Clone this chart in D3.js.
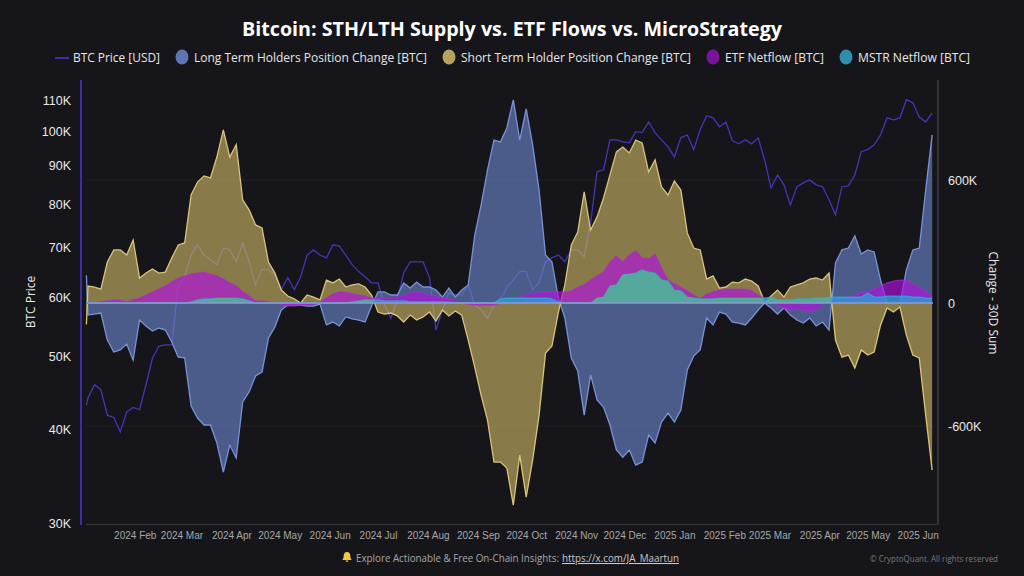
<!DOCTYPE html>
<html>
<head>
<meta charset="utf-8">
<title>Bitcoin: STH/LTH Supply vs. ETF Flows vs. MicroStrategy</title>
<script src="https://cdn.jsdelivr.net/npm/d3@7"></script>
<style>
  html, body { margin: 0; padding: 0; background: #16161a; }
  svg { display: block; font-family: "Open Sans", "Noto Sans", sans-serif; }
  .axis path, .axis line { display: none; }
  .axis text { fill: #e8e8e8; font-size: 12.5px; }
  .x-axis text { fill: #a6a6a8; font-size: 10px; }
</style>
</head>
<body>
<svg id="chart" width="1024" height="576"></svg>
<script>
// values, one sample every 4 days (first sample is the day before)
const sampleCount = 132;

const btcPrice = [43.1,
  44.1,45.9,45.2,41.8,41.5,39.7,42.2,42.8,42.5,45.9,49.8,51.7,51.9,51.9,62.4,64,68.4,70.6,68.4,67.4,
  66.4,69.9,69.5,67,71,67,62.4,65.4,65.4,64.4,61.5,63.8,61.5,64,68.4,69.5,68.4,67.8,70.6,70.3,
  68.4,66.4,65,64,62.8,62.8,58.7,56.3,59.6,64.8,67,67,67,63.8,54.3,57.8,60.9,60.5,60.5,62.4,
  58.7,57.8,56.3,58.7,59.6,62,63.4,65,65,61.5,62.8,67,67.8,68.4,67,69.5,69.5,68,75.5,88.4,
  88.9,97.5,97.5,96.9,96.6,100,99.7,103,99.7,97.5,95.4,92.5,98.1,99,94.6,100.6,105,104.3,101.5,103,
  97.2,96.3,97.5,96.3,98.1,91.7,84.1,87.5,84.9,79.8,84.4,85.4,86.2,84.9,84.4,81.1,77.4,84.4,84.6,87.5,
  94,94.6,96,99,104.3,103.7,104.3,110.3,109.3,104.6,103,105.9];

const lthChange = [135,
  -59,-54,-49,-181,-239,-229,-200,-278,-83,-112,-137,-122,-132,-190,-264,-268,-503,-561,-595,-595,
  -683,-825,-693,-756,-483,-434,-356,-337,-171,-117,-34,-10,-10,-10,-15,-15,-5,-107,-93,-112,
  -68,-78,-83,-93,-15,54,54,39,39,98,73,102,78,78,63,29,73,29,63,88,
  327,478,649,795,786,854,991,795,947,771,551,234,200,24,-73,-268,-332,-547,-351,-473,
  -508,-595,-717,-752,-717,-791,-776,-644,-683,-581,-537,-581,-522,-327,-259,-229,-73,-107,-44,-54,
  -93,-98,-107,-73,-34,0,-24,-54,-24,-59,-83,-98,-73,-112,-93,-132,195,259,268,327,
  239,259,249,112,0,5,0,161,259,268,551,820];

const sthChange = [-105,
  83,78,68,200,259,259,234,307,122,146,166,146,151,220,283,293,527,590,620,610,
  712,844,712,772,503,454,381,366,200,146,63,34,20,0,39,29,15,112,98,117,
  78,88,93,78,39,-44,-54,-49,-63,-93,-59,-83,-68,-44,-88,-34,-63,-39,-59,-181,
  -312,-449,-571,-776,-776,-805,-986,-742,-947,-766,-547,-244,-210,-44,88,283,346,542,356,420,
  512,625,737,761,732,795,781,639,698,566,527,595,551,342,268,259,117,132,73,78,
  102,98,117,107,83,5,34,63,29,78,88,98,117,122,112,146,-181,-264,-254,-317,
  -229,-254,-239,-107,-24,-44,-20,-156,-254,-268,-547,-815];

const etfNetflow = [0,
  0,0,5,10,15,15,5,15,24,39,54,68,83,102,122,132,141,146,151,141,
  132,117,98,83,54,34,10,10,5,0,-5,-15,-15,-10,-10,-5,5,24,44,54,
  54,44,39,34,24,24,24,24,29,39,49,54,49,39,34,24,20,10,0,-5,
  -10,-10,-10,-10,0,10,24,29,39,49,49,54,54,54,54,59,78,88,112,132,
  151,200,229,200,234,254,220,215,239,171,112,93,78,59,39,20,44,54,63,68,
  68,68,68,59,39,24,5,-10,-24,-34,-29,-34,-39,-34,-5,15,20,24,29,39,
  49,59,68,83,98,107,112,112,93,78,59,29];

const mstrNetflow = [0,
  0,0,0,0,0,0,0,0,0,0,0,0,0,0,0,0,5,15,20,20,
  24,24,24,24,20,10,0,0,0,0,0,0,0,0,0,0,0,0,0,0,
  0,5,10,15,15,15,10,10,10,10,5,5,5,5,5,5,5,0,0,0,
  0,0,0,0,20,24,24,24,24,24,24,24,20,5,0,0,0,0,0,24,
  29,83,88,137,141,146,161,151,146,112,107,63,59,29,24,20,20,20,24,24,
  24,24,24,24,24,24,29,15,15,15,20,20,20,24,24,29,29,29,29,29,
  29,49,29,29,34,34,34,34,29,29,24,24];

const leftTicks = [30, 40, 50, 60, 70, 80, 90, 100, 110];
const rightTicks = [-600, 0, 600];

const legendLabels = ['BTC Price [USD]', 'Long Term Holders Position Change [BTC]', 'Short Term Holder Position Change [BTC]', 'ETF Netflow [BTC]', 'MSTR Netflow [BTC]'];
const legendColors = ['#3b2fa3', '#5f74b2', '#b5a25f', '#7a129b', '#2e8fb0'];
const legendTextX = [73, 194, 461, 725, 858];
const legendTextWidth = [87, 233, 230, 99, 112];

const dates = [new Date(Date.UTC(2024, 0, 2))].concat(
  d3.range(sampleCount).map((i) => new Date(Date.UTC(2024, 0, 3 + i * 4)))
);

const svg = d3.select('#chart');

svg.append('rect').attr('width', 1024).attr('height', 576).attr('fill', '#16161a');

const x = d3.scaleUtc()
  .domain([new Date(Date.UTC(2024, 0, 1)), new Date(Date.UTC(2025, 5, 15))])
  .range([84.8, 940.2]);
const yPrice = d3.scaleLog().domain([30, 110]).range([523, 100.6]);
const yChange = d3.scaleLinear().domain([-600, 600]).range([426, 180]);

// title
svg.append('text')
  .attr('x', 512).attr('y', 36)
  .attr('text-anchor', 'middle')
  .attr('fill', '#ffffff')
  .attr('font-size', 19)
  .attr('font-weight', 700)
  .attr('textLength', 540)
  .attr('lengthAdjust', 'spacingAndGlyphs')
  .text('Bitcoin: STH/LTH Supply vs. ETF Flows vs. MicroStrategy');

// legend
legendLabels.forEach((label, i) => {
  if (i === 0) {
    svg.append('line')
      .attr('x1', 55).attr('x2', 69).attr('y1', 58).attr('y2', 58)
      .attr('stroke', legendColors[0]).attr('stroke-width', 2);
  } else {
    svg.append('ellipse')
      .attr('cx', legendTextX[i] - 12).attr('cy', 57)
      .attr('rx', 6.5).attr('ry', 7.5)
      .attr('fill', legendColors[i]);
  }
  svg.append('text')
    .attr('x', legendTextX[i]).attr('y', 62)
    .attr('fill', '#e6e6e6')
    .attr('font-size', 12.5)
    .attr('textLength', legendTextWidth[i])
    .attr('lengthAdjust', 'spacingAndGlyphs')
    .text(label);
});

// faint grid and the frame
svg.append('g').selectAll('line')
  .data(rightTicks.filter((d) => d !== 0))
  .join('line')
  .attr('x1', 86).attr('x2', 933)
  .attr('y1', (d) => yChange(d)).attr('y2', (d) => yChange(d))
  .attr('stroke', '#202025');

svg.append('line').attr('x1', 81).attr('x2', 81).attr('y1', 80).attr('y2', 525)
  .attr('stroke', '#3b2fa3').attr('stroke-width', 2);
svg.append('line').attr('x1', 938).attr('x2', 938).attr('y1', 80).attr('y2', 525)
  .attr('stroke', '#3c3c42').attr('stroke-width', 1.5);
svg.append('line').attr('x1', 86).attr('x2', 938).attr('y1', 524.5).attr('y2', 524.5)
  .attr('stroke', '#303036').attr('stroke-width', 1.5);

// price sits under the areas
const priceLine = d3.line()
  .x((d, i) => x(dates[i]))
  .y((d) => yPrice(d));

svg.append('path')
  .attr('d', priceLine(btcPrice))
  .attr('fill', 'none')
  .attr('stroke', '#4434b8')
  .attr('stroke-width', 1.3);

const area = d3.area()
  .x((d, i) => x(dates[i]))
  .y0(yChange(0))
  .y1((d) => yChange(d));

function drawArea(values, fill, opacity, stroke) {
  const line = d3.line()
    .x((d, i) => x(dates[i]))
    .y((d) => yChange(d));

  svg.append('path').attr('d', area(values)).attr('fill', fill).attr('fill-opacity', opacity);
  svg.append('path')
    .attr('d', line(values))
    .attr('fill', 'none')
    .attr('stroke', stroke)
    .attr('stroke-width', 1.3);
}

drawArea(lthChange, 'rgb(104,130,200)', 0.65, 'rgb(122,145,212)');
drawArea(sthChange, 'rgb(200,176,98)', 0.65, 'rgb(216,196,122)');
drawArea(etfNetflow, 'rgb(176,16,224)', 0.65, 'rgba(176,40,210,0.6)');
drawArea(mstrNetflow, 'rgb(30,170,220)', 0.72, 'rgba(50,175,215,0.7)');

// MSTR turns teal where it lies over the short term holders area
svg.append('clipPath').attr('id', 'sth-clip')
  .append('path').attr('d', area(sthChange));
svg.append('path')
  .attr('d', area(mstrNetflow))
  .attr('clip-path', 'url(#sth-clip)')
  .attr('fill', '#55a99c');

// zero line across the plot
svg.append('line')
  .attr('x1', 88).attr('x2', 933)
  .attr('y1', yChange(0)).attr('y2', yChange(0))
  .attr('stroke', '#8a9bd4').attr('stroke-width', 1.4);

// axes
svg.append('g')
  .attr('class', 'axis')
  .attr('transform', 'translate(80,0)')
  .call(d3.axisLeft(yPrice).tickValues(leftTicks).tickFormat((d) => `${d}K`).tickSize(0).tickPadding(9));

svg.append('g')
  .attr('class', 'axis')
  .attr('transform', 'translate(948,0)')
  .call(d3.axisRight(yChange).tickValues(rightTicks).tickFormat((d) => `${d}K`.replace(/^0K$/, '0')).tickSize(0).tickPadding(0));

svg.append('g')
  .attr('class', 'axis x-axis')
  .attr('transform', 'translate(0,530)')
  .call(d3.axisBottom(x)
    .ticks(d3.utcMonth.every(1))
    .tickFormat(d3.utcFormat('%Y %b'))
    .tickSize(0)
    .tickPadding(2))
  .selectAll('.tick')
  .filter((d) => d < new Date(Date.UTC(2024, 0, 15)))
  .remove();

svg.append('text')
  .attr('transform', 'translate(35,302) rotate(-90)')
  .attr('text-anchor', 'middle')
  .attr('fill', '#e8e8e8')
  .attr('font-size', 12)
  .text('BTC Price');

svg.append('text')
  .attr('transform', 'translate(989,303) rotate(90)')
  .attr('text-anchor', 'middle')
  .attr('fill', '#e8e8e8')
  .attr('font-size', 12)
  .text('Change - 30D Sum');

// footer
svg.append('path')
  .attr('d', 'M347 552c-2.4 0-3.4 2-3.4 4.4 0 1.8-.8 2.8-1.4 3.6h9.6c-.6-.8-1.4-1.8-1.4-3.6 0-2.4-1-4.4-3.4-4.4zM345.6 560.6h2.8a1.4 1.4 0 0 1-2.8 0z')
  .attr('fill', '#f2c84b');

svg.append('text')
  .attr('x', 356).attr('y', 562)
  .attr('fill', '#a6a6a8')
  .attr('font-size', 10.5)
  .attr('textLength', 203)
  .attr('lengthAdjust', 'spacingAndGlyphs')
  .text('Explore Actionable & Free On-Chain Insights:');

svg.append('text')
  .attr('x', 562).attr('y', 562)
  .attr('fill', '#c8c8ca')
  .attr('font-size', 10.5)
  .attr('text-decoration', 'underline')
  .attr('textLength', 117)
  .attr('lengthAdjust', 'spacingAndGlyphs')
  .text('https://x.com/JA_Maartun');

svg.append('text')
  .attr('x', 870).attr('y', 562)
  .attr('fill', '#77777b')
  .attr('font-size', 9)
  .attr('textLength', 128)
  .attr('lengthAdjust', 'spacingAndGlyphs')
  .text('© CryptoQuant. All rights reserved');
</script>
</body>
</html>
